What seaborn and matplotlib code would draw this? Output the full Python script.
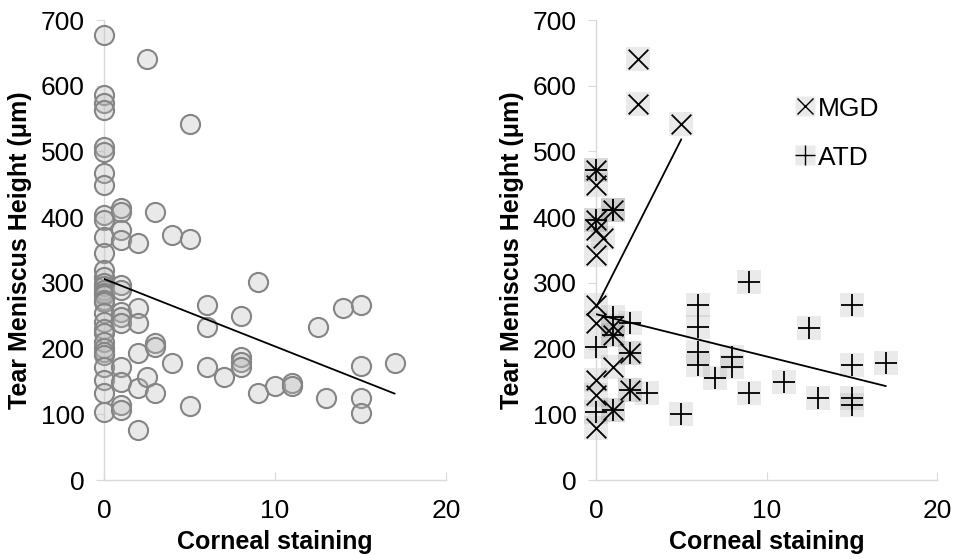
import numpy as np
import pandas as pd
import seaborn as sns
import matplotlib.pyplot as plt

# left panel: all eyes
all_x = [0] * 33 + [1] * 13 + [2] * 6 + [2.5] * 2 + [3] * 4 + [4] * 2 + [5] * 3 \
    + [6] * 3 + [7] + [8] * 4 + [9] * 2 + [10] + [11] * 2 + [12.5] + [13] + [14] \
    + [15] * 4 + [17]
all_y = [677, 586, 574, 563, 507, 499, 467, 449, 403, 396, 370, 346, 320, 309, 300,
         295, 289, 285, 282, 274, 271, 254, 240, 230, 224, 210, 201, 195, 190, 172,
         152, 132, 103,
         414, 408, 380, 365, 297, 289, 256, 248, 239, 172, 149, 114, 107,
         361, 262, 239, 193, 140, 76,
         640, 157,
         408, 208, 203, 132,
         373, 178,
         542, 367, 113,
         266, 233, 172,
         157,
         250, 187, 180, 172,
         301, 132,
         143,
         148, 143,
         233,
         125,
         262,
         266, 173, 125, 102,
         178]

# right panel: MGD and ATD groups
mgd_x = [0] * 10 + [0.4] + [1] * 5 + [2] * 2 + [2.46] * 2 + [5]
mgd_y = [472, 449, 396, 380, 342, 266, 239, 152, 129, 79,
         368,
         411, 235, 221, 172, 107,
         193, 137,
         640, 572,
         542]

atd_x = [0] * 4 + [1] * 5 + [2] * 3 + [3] + [5] + [6] * 4 + [7] + [8] * 2 + [9] * 2 \
    + [11] + [12.5] + [13] + [15] * 4 + [17]
atd_y = [472, 396, 203, 103,
         411, 411, 248, 221, 107,
         239, 193, 137,
         132,
         100,
         266, 233, 195, 175,
         155,
         187, 172,
         301, 132,
         149,
         231,
         125,
         266, 175, 125, 114,
         178]

y_ticks = [0, 100, 200, 300, 400, 500, 600, 700]
x_ticks = [0, 10, 20]

sns.set_style('white')
plt.rcParams['font.family'] = ['Liberation Sans', 'DejaVu Sans']
plt.rcParams['text.color'] = 'black'
plt.rcParams['axes.labelcolor'] = 'black'
plt.rcParams['xtick.color'] = 'black'
plt.rcParams['ytick.color'] = 'black'

fig = plt.figure(figsize=(9.57, 5.59), dpi=100)
ax1 = fig.add_axes([0.1087, 0.1413, 0.3574, 0.8229])
ax2 = fig.add_axes([0.6228, 0.1413, 0.3563, 0.8229])

df_all = pd.DataFrame({'x': all_x, 'y': all_y})
df_mgd = pd.DataFrame({'x': mgd_x, 'y': mgd_y})
df_atd = pd.DataFrame({'x': atd_x, 'y': atd_y})

# circles with semi-transparent fill so overlaps get darker
sns.scatterplot(x='x', y='y', data=df_all, ax=ax1, s=190, marker='o',
                facecolor=(0.72, 0.72, 0.72, 0.3), edgecolor='#858585',
                linewidth=1.5, clip_on=False, zorder=3)
sns.regplot(x='x', y='y', data=df_all, ax=ax1, scatter=False, ci=None,
            line_kws={'color': 'black', 'lw': 1.3, 'zorder': 4})

# grey square backgrounds then the symbols
for df in (df_mgd, df_atd):
    sns.scatterplot(x='x', y='y', data=df, ax=ax2, s=300, marker='s',
                    color=(0.6, 0.6, 0.6, 0.2), linewidth=0, clip_on=False,
                    zorder=2)
sns.scatterplot(x='x', y='y', data=df_mgd, ax=ax2, s=200, marker='x',
                color='black', linewidth=1.3, clip_on=False, zorder=3)
sns.scatterplot(x='x', y='y', data=df_atd, ax=ax2, s=230, marker='+',
                color='black', linewidth=1.3, clip_on=False, zorder=3)
for df in (df_mgd, df_atd):
    sns.regplot(x='x', y='y', data=df, ax=ax2, scatter=False, ci=None,
                line_kws={'color': 'black', 'lw': 1.3, 'zorder': 4})

# legend with the same square + symbol look
h_mgd = (plt.Line2D([], [], ls='', marker='s', ms=15, mfc=(0.6, 0.6, 0.6, 0.2), mec='none'),
         plt.Line2D([], [], ls='', marker='x', ms=12, mec='black', mew=1.0))
h_atd = (plt.Line2D([], [], ls='', marker='s', ms=15, mfc=(0.6, 0.6, 0.6, 0.2), mec='none'),
         plt.Line2D([], [], ls='', marker='+', ms=14, mec='black', mew=1.0))
ax2.legend([h_mgd, h_atd], ['MGD', 'ATD'], loc='upper left',
           bbox_to_anchor=(0.515, 0.885), frameon=False, fontsize=19,
           handlelength=0.7, handletextpad=0.15, labelspacing=0.95)

for ax in (ax1, ax2):
    ax.set_xlim(0, 20)
    ax.set_ylim(0, 700)
    ax.set_xticks(x_ticks)
    ax.set_yticks(y_ticks)
    sns.despine(ax=ax)
    for side in ('left', 'bottom'):
        ax.spines[side].set_color('#d9d9d9')
        ax.spines[side].set_linewidth(1.0)
    ax.tick_params(axis='y', direction='out', length=6, color='#d9d9d9',
                   labelcolor='black', labelsize=19, pad=8, left=True)
    ax.tick_params(axis='x', direction='in', length=6, color='#d9d9d9',
                   labelcolor='black', labelsize=19, pad=14, bottom=True)
    ax.set_xlabel('Corneal staining', fontsize=18, fontweight='bold', labelpad=5)
    ax.set_ylabel('Tear Meniscus Height (μm)', fontsize=18, fontweight='bold',
                  labelpad=6)

fig.savefig('out.png', dpi=100)
